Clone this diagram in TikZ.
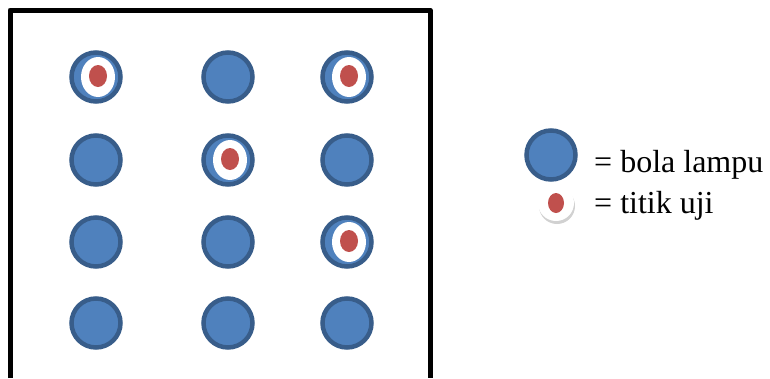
\documentclass[tikz,border=0pt]{standalone}
\usepackage{fontspec}
\setmainfont{Liberation Serif}
\usetikzlibrary{shapes.geometric}
\definecolor{lampfill}{RGB}{79,129,189}
\definecolor{lampline}{RGB}{56,93,138}
\definecolor{ujired}{RGB}{192,80,77}
\tikzset{
  lampu/.style={circle,draw=lampline,fill=lampfill,line width=4.5pt,minimum size=49pt,inner sep=0pt},
  ujiring/.style={ellipse,fill=white,minimum width=34pt,minimum height=40pt,inner sep=0pt},
  ujidot/.style={ellipse,fill=ujired,minimum width=18pt,minimum height=22pt,inner sep=0pt},
  legtext/.style={anchor=base west,font=\fontsize{32}{32}\selectfont,inner sep=0pt}
}

\begin{document}
\begin{tikzpicture}[x=1pt,y=-1pt]
  \useasboundingbox (0,0) rectangle (770,378);
  % room outline (bottom is cut off)
  \draw[line width=5pt,line join=round] (10,378) -- (10,10) -- (430,10) -- (430,378);
  % lamps, 3 columns x 4 rows
  \foreach \c/\x in {1/96,2/228,3/347}{
    \foreach \r/\y in {1/77,2/160,3/242,4/323}{
      \node[lampu] (l-\c-\r) at (\x,\y) {};
    }
  }
  % test points on some lamps
  \foreach \p in {l-1-1,l-3-1,l-2-2,l-3-3}{
    \node[ujiring] (w-\p) at ([xshift=2pt]\p.center) {};
    \node[ujidot] at ([yshift=1pt]w-\p.center) {};
  }
  % legend
  \node[lampu] (leg-lampu) at (551,155) {};
  \node[legtext] (t-lampu) at (594,172) {= bola lampu};
  \node[ujiring,fill=black!18,minimum width=36pt,minimum height=36pt] at (557,206) {};
  \node[ujiring,minimum width=36pt,minimum height=36pt] (leg-uji) at (556,203) {};
  \node[ujidot,minimum width=16pt,minimum height=20pt] at (leg-uji.center) {};
  \node[legtext] (t-uji) at (594,213) {= titik uji};
\end{tikzpicture}
\end{document}
